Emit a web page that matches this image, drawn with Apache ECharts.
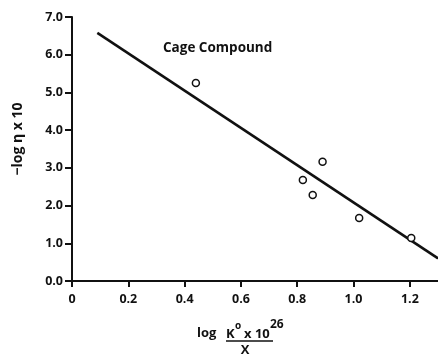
<!DOCTYPE html>
<html>
<head>
<meta charset="utf-8">
<script src="https://cdn.jsdelivr.net/npm/echarts@6/dist/echarts.min.js"></script>
<style>
  html, body { margin: 0; padding: 0; background: #fff; }
  #chart { width: 438px; height: 356px; }
</style>
</head>
<body>
<div id="chart"></div>
<script>
const xVals = [0.44, 0.82, 0.855, 0.89, 1.02, 1.205]
const yVals = [5.25, 2.68, 2.28, 3.16, 1.67, 1.14]
// fitted straight line, two ends
const fitX = [0.09, 1.3]
const fitY = [6.58, 0.6]
const xTicks = [0, 0.2, 0.4, 0.6, 0.8, 1.0, 1.2]
const yTicks = [0, 1, 2, 3, 4, 5, 6, 7]

const fontFam = 'Open Sans'
const ink = '#111'

let myChart = echarts.init(document.getElementById('chart'))
let option = {
  animation: false,
  backgroundColor: '#fff',
  grid: { left: 72, right: 0, top: 17, bottom: 75 },
  title: {
    text: 'Cage Compound',
    left: 158,
    top: 36,
    textStyle: { color: ink, fontSize: 13.5, fontWeight: 'bold', fontFamily: fontFam }
  },
  xAxis: [
    {
      type: 'value',
      min: 0,
      max: 1.3,
      interval: 0.2,
      splitLine: { show: false },
      axisLine: { show: true, onZero: false, lineStyle: { color: ink, width: 2 } },
      axisTick: { show: true, length: 6, lineStyle: { color: ink, width: 2 }, customValues: xTicks },
      axisLabel: {
        customValues: xTicks,
        margin: 12,
        color: ink,
        fontSize: 12.5,
        fontWeight: 'bold',
        fontFamily: fontFam,
        formatter: v => v === 0 ? '0' : v.toFixed(1)
      }
    },
    {
      // top frame line
      type: 'value',
      position: 'top',
      min: 0,
      max: 1.3,
      splitLine: { show: false },
      axisLine: { show: true, lineStyle: { color: ink, width: 2 } },
      axisTick: { show: false },
      axisLabel: { show: false }
    }
  ],
  yAxis: {
    type: 'value',
    min: 0,
    max: 7,
    interval: 1,
    splitLine: { show: false },
    axisLine: { show: true, onZero: false, lineStyle: { color: ink, width: 2 } },
    axisTick: { show: true, length: 7, lineStyle: { color: ink, width: 2 }, customValues: yTicks },
    axisLabel: {
      customValues: yTicks,
      margin: 9,
      color: ink,
      fontSize: 12.5,
      fontWeight: 'bold',
      fontFamily: fontFam,
      formatter: v => v.toFixed(1)
    }
  },
  graphic: [
    {
      type: 'text', x: 18, y: 139, rotation: Math.PI / 2,
      style: { text: '−log η x 10', fontSize: 14, fontFamily: fontFam, fontWeight: 'bold', fill: ink, align: 'center', verticalAlign: 'middle' }
    },
    { type: 'text', x: 197, y: 333, style: { text: 'log', fontSize: 13, fontFamily: fontFam, fontWeight: 'bold', fill: ink, verticalAlign: 'middle' } },
    { type: 'text', x: 226, y: 334, style: { text: 'K', fontSize: 13, fontFamily: fontFam, fontWeight: 'bold', fill: ink, verticalAlign: 'middle' } },
    { type: 'text', x: 235, y: 326, style: { text: 'o', fontSize: 10, fontFamily: fontFam, fontWeight: 'bold', fill: ink, verticalAlign: 'middle' } },
    { type: 'text', x: 244, y: 334, style: { text: 'x 10', fontSize: 13, fontFamily: fontFam, fontWeight: 'bold', fill: ink, verticalAlign: 'middle' } },
    { type: 'text', x: 270, y: 325, style: { text: '26', fontSize: 12, fontFamily: fontFam, fontWeight: 'bold', fill: ink, verticalAlign: 'middle' } },
    { type: 'line', shape: { x1: 226, y1: 341, x2: 273, y2: 341 }, style: { stroke: ink, lineWidth: 1.5 } },
    { type: 'text', x: 245, y: 350, style: { text: 'X', fontSize: 13, fontFamily: fontFam, fontWeight: 'bold', fill: ink, align: 'center', verticalAlign: 'middle' } }
  ],
  series: [
    {
      type: 'line',
      xAxisIndex: 0,
      yAxisIndex: 0,
      data: fitX.map((x, i) => [x, fitY[i]]),
      showSymbol: false,
      clip: false,
      lineStyle: { color: ink, width: 2.5 }
    },
    {
      type: 'scatter',
      xAxisIndex: 0,
      yAxisIndex: 0,
      z: 5,
      data: xVals.map((x, i) => [x, yVals[i]]),
      symbol: 'circle',
      symbolSize: 7,
      itemStyle: { color: '#ffffff', borderColor: ink, borderWidth: 1.5, opacity: 1 }
    }
  ]
}
myChart.setOption(option, true)
</script>
</body>
</html>
